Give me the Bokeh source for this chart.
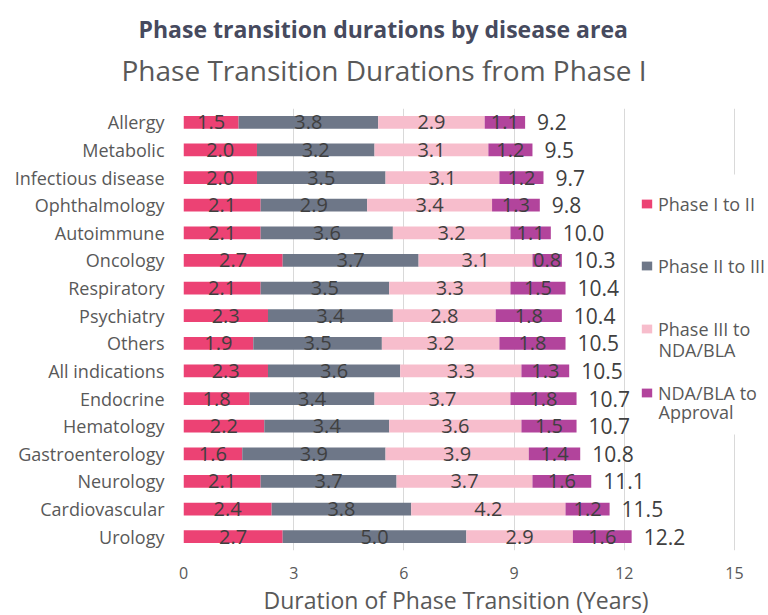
from bokeh.plotting import figure
from bokeh.models import (ColumnDataSource, FactorRange, Range1d, FixedTicker, Legend,
                          LegendItem, Title, LabelSet, Label, BoxAnnotation)
from bokeh.core.properties import value
from bokeh.embed import file_html
from bokeh.resources import INLINE

# ---------------- data ----------------
categories = ["Allergy", "Metabolic", "Infectious disease", "Ophthalmology", "Autoimmune",
              "Oncology", "Respiratory", "Psychiatry", "Others", "All indications",
              "Endocrine", "Hematology", "Gastroenterology", "Neurology", "Cardiovascular",
              "Urology"]
phase_1_to_2 = [1.5, 2.0, 2.0, 2.1, 2.1, 2.7, 2.1, 2.3, 1.9, 2.3, 1.8, 2.2, 1.6, 2.1, 2.4, 2.7]
phase_2_to_3 = [3.8, 3.2, 3.5, 2.9, 3.6, 3.7, 3.5, 3.4, 3.5, 3.6, 3.4, 3.4, 3.9, 3.7, 3.8, 5.0]
phase_3_to_nda = [2.9, 3.1, 3.1, 3.4, 3.2, 3.1, 3.3, 2.8, 3.2, 3.3, 3.7, 3.6, 3.9, 3.7, 4.2, 2.9]
nda_to_approval = [1.1, 1.2, 1.2, 1.3, 1.1, 0.8, 1.5, 1.8, 1.8, 1.3, 1.8, 1.5, 1.4, 1.6, 1.2, 1.6]
totals = [9.2, 9.5, 9.7, 9.8, 10.0, 10.3, 10.4, 10.4, 10.5, 10.5, 10.7, 10.7, 10.8, 11.1, 11.5, 12.2]
legend_first_lines = ["Phase I to II", "Phase II to III", "Phase III to", "NDA/BLA to"]
legend_second_lines = ["", "", "NDA/BLA", "Approval"]
x_ticks = [0, 3, 6, 9, 12, 15]

colors = ["#EC4274", "#6E7788", "#F7BDCC", "#B2449C"]
FONT = "Open Sans"

# ---------------- source ----------------
series = [phase_1_to_2, phase_2_to_3, phase_3_to_nda, nda_to_approval]
keys = ["s1", "s2", "s3", "s4"]
data = {"cat": categories}
left = [0.0] * len(categories)
for k, vals in zip(keys, series):
    data[k] = vals
    data[k + "_mid"] = [l + v / 2 for l, v in zip(left, vals)]
    data[k + "_txt"] = ["%.1f" % v for v in vals]
    left = [l + v for l, v in zip(left, vals)]
data["end"] = left
data["tot_txt"] = ["%.1f" % t for t in totals]
src = ColumnDataSource(data)

# ---------------- layout constants (pixels) ----------------
W, H = 768, 615
FRAME_L = 183          # x = 0
PX_15 = 734            # x = 15
FRAME_TOP = 108
FRAME_BOTTOM = 551
x_end = 15.0 * (W - FRAME_L) / (PX_15 - FRAME_L)

p = figure(width=W, height=H, title=None,
           y_range=FactorRange(factors=list(reversed(categories))),
           x_range=Range1d(0, x_end),
           output_backend="svg", toolbar_location=None,
           min_border_left=FRAME_L, min_border_right=0,
           min_border_top=FRAME_TOP, min_border_bottom=0)
p.outline_line_color = None
p.background_fill_color = "white"
p.border_fill_color = "white"

rs = p.hbar_stack(keys, y="cat", height=0.46, color=colors, line_color=None, source=src)

# grid
p.ygrid.grid_line_color = None
p.xgrid.grid_line_color = "#D9D9D9"
p.xgrid.grid_line_width = 1

# x axis
p.xaxis.ticker = FixedTicker(ticks=x_ticks)
p.xaxis.axis_line_color = None
p.xaxis.major_tick_line_color = None
p.xaxis.minor_tick_line_color = None
p.xaxis.major_tick_out = 0
p.xaxis.major_tick_in = 0
p.xaxis.major_label_standoff = 16
p.xaxis.major_label_text_font = FONT
p.xaxis.major_label_text_font_size = "16px"
p.xaxis.major_label_text_color = "#595959"

# y axis
p.yaxis.axis_line_color = None
p.yaxis.major_tick_line_color = None
p.yaxis.minor_tick_line_color = None
p.yaxis.major_tick_out = 0
p.yaxis.major_tick_in = 0
p.yaxis.major_label_standoff = 19
p.yaxis.major_label_text_font = FONT
p.yaxis.major_label_text_font_size = "18px"
p.yaxis.major_label_text_color = "#595959"

# x axis title (placed below the axis, left aligned to match the original centring)
p.add_layout(Title(text="Duration of Phase Transition (Years)", align="left", offset=80,
                   text_font=FONT, text_font_size="23px", text_font_style="normal",
                   text_color="#595959", standoff=0), "below")

# titles (first added = closest to the plot)
p.add_layout(Title(text=" ", text_font_size="1px", standoff=12), "above")
p.add_layout(Title(text="Phase Transition Durations from Phase I", align="left", offset=-62,
                   text_font=FONT, text_font_size="28px", text_font_style="normal",
                   text_color="#595959", standoff=9), "above")
p.add_layout(Title(text="Phase transition durations by disease area", align="left", offset=-45,
                   text_font=FONT, text_font_size="23px", text_font_style="bold",
                   text_color="#464A5E", standoff=0), "above")

# white box behind legend (covers the 15 grid line)
p.add_layout(BoxAnnotation(left=12.2, right=x_end, bottom=FRAME_BOTTOM - 435, top=FRAME_BOTTOM - 175,
                           bottom_units="screen", top_units="screen",
                           fill_color="white", fill_alpha=1.0, line_color=None))

# segment labels
for k in keys:
    p.add_layout(LabelSet(x=k + "_mid", y="cat", text=k + "_txt", source=src,
                          text_align="center", text_baseline="middle",
                          text_font=value(FONT), text_font_size="20px", text_color="#404040"))
# totals
p.add_layout(LabelSet(x="end", y="cat", text="tot_txt", source=src, x_offset=12,
                      text_align="left", text_baseline="middle",
                      text_font=value(FONT), text_font_size="21px", text_color="#404040"))

# legend: one legend per entry so entries are spread like the original
leg_glyph_x = 640 - FRAME_L
leg_centers = [203, 265, 328, 392]
second_line_y = [None, None, 350, 412]
for r, lab, lab2, c, c2 in zip(rs, legend_first_lines, legend_second_lines, leg_centers, second_line_y):
    lg = Legend(items=[LegendItem(label=lab, renderers=[r])],
                location=(leg_glyph_x, FRAME_BOTTOM - c - 13.8),
                orientation="vertical", border_line_color=None, background_fill_alpha=0,
                padding=0, margin=0, glyph_width=13, glyph_height=11, label_standoff=5,
                label_text_font=FONT, label_text_font_size="18px", label_text_color="#595959",
                label_text_line_height=1.2)
    p.add_layout(lg, "center")
    if lab2:
        p.add_layout(Label(x=leg_glyph_x + 18, y=FRAME_BOTTOM - c2, x_units="screen", y_units="screen",
                           text=lab2, text_align="left", text_baseline="middle",
                           text_font=FONT, text_font_size="18px", text_color="#595959"))

open("out.html", "w").write(file_html(p, INLINE))
